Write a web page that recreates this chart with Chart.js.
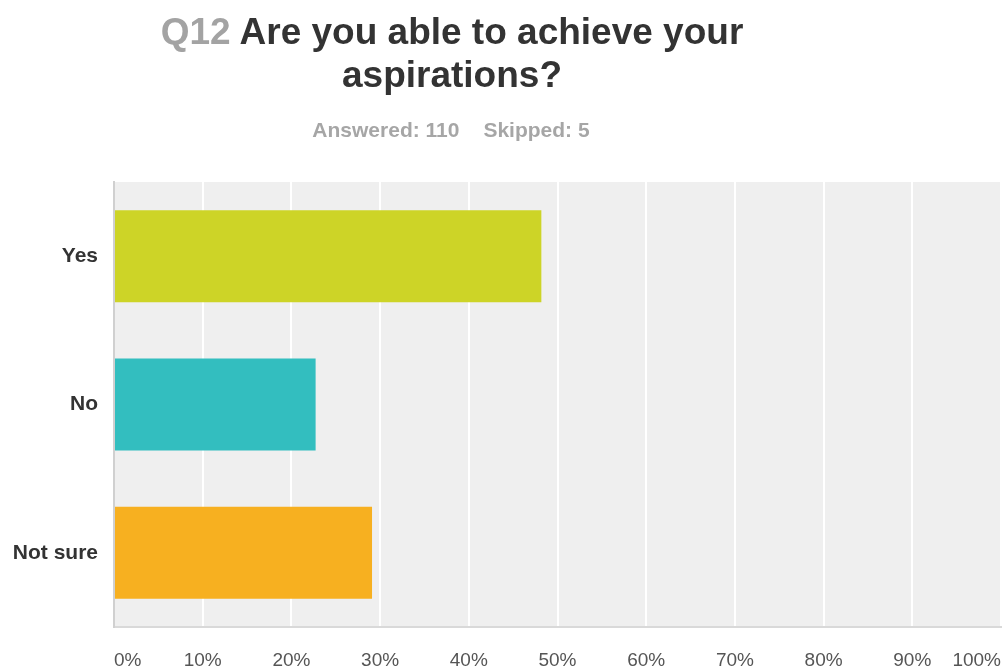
<!DOCTYPE html>
<html>
<head>
<meta charset="utf-8">
<script src="https://cdn.jsdelivr.net/npm/chart.js@4"></script>
<style>
	html, body { margin: 0; padding: 0; background: #fff; }
	#wrap { position: relative; width: 1003px; height: 668px; }
	#title {
		position: absolute; left: 0; top: 10px; width: 904px;
		text-align: center; font: bold 37px "Liberation Sans", Arial, sans-serif;
		line-height: 43px; color: #333;
	}
	#title .num { color: #a3a3a3; }
	#sub {
		position: absolute; left: 0; top: 118px; width: 902px;
		text-align: center; font: bold 21px "Liberation Sans", Arial, sans-serif;
		color: #a6a6a6;
	}
	#sub span + span { margin-left: 24px; }
	canvas { position: absolute; left: 0; top: 0; }
</style>
</head>
<body>
<div id="wrap">
	<canvas id="chart" width="1003" height="668"></canvas>
	<div id="title"><span class="num">Q12</span> Are you able to achieve your<br>aspirations?</div>
	<div id="sub"><span>Answered: 110</span><span>Skipped: 5</span></div>
</div>
<script>
// Answer options and share of respondents (%)
const answers = ['Yes', 'No', 'Not sure'];
const shares = [48.18, 22.73, 29.09];
const colors = ['#cdd427', '#33bebf', '#f7b020'];
const tickValues = [0, 10, 20, 30, 40, 50, 60, 70, 80, 90, 100];

// Grey background behind the plot area
const plotBackground = {
	id: 'plotBackground',
	beforeDraw(chart) {
		const { ctx, chartArea: a } = chart;
		ctx.save();
		ctx.fillStyle = '#efefef';
		ctx.fillRect(a.left, a.top, a.right - a.left, a.bottom - a.top);
		ctx.restore();
	}
};

new Chart(document.getElementById('chart'), {
	type: 'bar',
	data: {
		labels: answers,
		datasets: [{
			data: shares,
			backgroundColor: colors,
			barPercentage: 0.62,
			categoryPercentage: 1
		}]
	},
	options: {
		indexAxis: 'y',
		responsive: false,
		animation: false,
		layout: { padding: { top: 182, right: 2, left: 0, bottom: 0 } },
		plugins: {
			legend: { display: false },
			tooltip: { enabled: false }
		},
		scales: {
			x: {
				min: 0,
				max: 100,
				afterBuildTicks: (scale) => {
					scale.ticks = tickValues.map((v) => ({ value: v }));
				},
				afterFit: (scale) => {
					scale.height = 41;
					// labels are aligned inside, so no extra room at the ends
					scale.paddingLeft = 0;
					scale.paddingRight = 0;
				},
				grid: { color: '#ffffff', lineWidth: 2, drawTicks: false },
				border: { display: true, color: '#d9d9d9', width: 2 },
				ticks: {
					align: 'inner',
					padding: 22,
					color: '#555',
					font: { family: '"Liberation Sans", Arial, sans-serif', size: 19 },
					callback: (v) => v + '%'
				}
			},
			y: {
				afterFit: (scale) => {
					scale.width = 114;
					scale.paddingTop = 0;
					scale.paddingBottom = 0;
				},
				grid: { display: false, drawTicks: false },
				border: { display: true, color: '#d0d0d0', width: 2 },
				ticks: {
					padding: 16,
					color: '#333',
					font: { family: '"Liberation Sans", Arial, sans-serif', size: 21, weight: 'bold' }
				}
			}
		}
	},
	plugins: [plotBackground]
});
</script>
</body>
</html>
